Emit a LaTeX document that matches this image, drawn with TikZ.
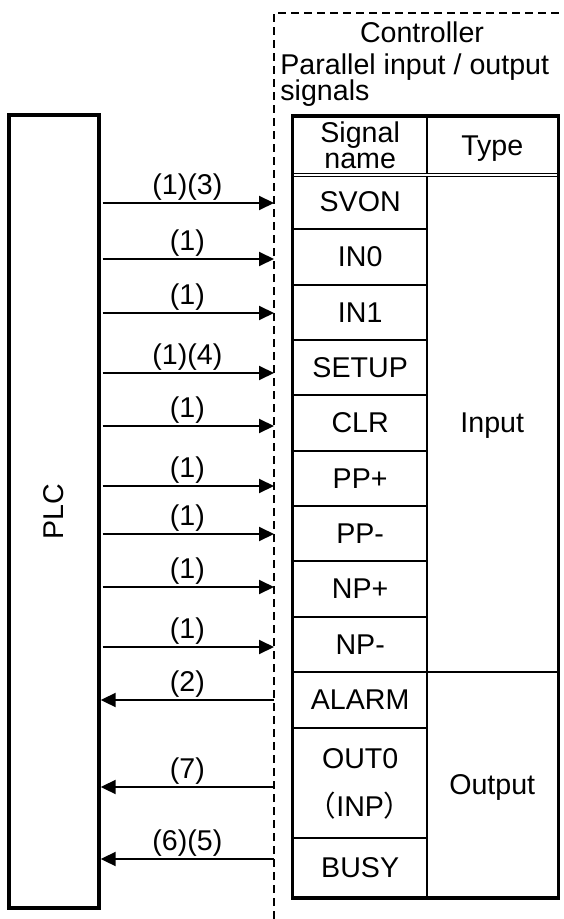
\documentclass[tikz,border=0pt]{standalone}
\usepackage{fontspec}
\setmainfont{Liberation Sans}
\newfontfamily\cjk{Noto Sans CJK JP}
\usetikzlibrary{positioning,arrows.meta}
\newcommand{\fwparen}[1]{{\cjk （}#1{\cjk ）}}

\begin{document}
\begin{tikzpicture}[x=0.5pt,y=-0.5pt,
  font=\fontsize{14.3}{15}\selectfont,
  cell/.style={draw, line width=1pt, inner sep=0pt, text depth=0pt, minimum height=27.67pt},
  namecol/.style={cell, minimum width=66.85pt},
  typecol/.style={cell, minimum width=65.25pt},
  wire/.style={line width=1pt, -{Triangle[length=7.5pt,width=7pt]}},
  wirelabel/.style={above, inner sep=1pt},
  ctlframe/.style={line width=1pt, dash pattern=on 4pt off 2.5pt}]

\useasboundingbox (0,0) rectangle (563,919);

% PLC
\node[draw, line width=2pt, inner sep=0pt, minimum width=44.7pt, minimum height=396.35pt] (plc) at (54,511.65) {\rotatebox{90}{PLC}};

% controller side
\draw[ctlframe] (274,919) -- (274,13) -- (563,13);
\node[anchor=base] (ctl) at (422,43) {Controller};
\node[anchor=base west, inner sep=0pt] (pio) at (280,75) {Parallel input / output};
\node[anchor=base west, inner sep=0pt] (pios) at (280,101) {signals};

% table
\node[namecol, minimum height=28.5pt, align=center, font=\fontsize{14.3}{13}\selectfont] (hname) at (360.15,145.5) {Signal\\name};
\node[typecol, minimum height=28.5pt] (htype) at (492.25,145.5) {Type};
\foreach \name/\txt [count=\i] in {svon/SVON,in0/IN0,in1/IN1,setup/SETUP,clr/CLR,ppplus/PP+,ppminus/PP-,npplus/NP+,npminus/NP-}
  \node[namecol] (\name) at (360.15,{146.33+55.33*\i}) {\txt};
\node[namecol, minimum height=28pt] (alarm) at (360.15,700) {ALARM};
\node[namecol, minimum height=55pt, align=center, font=\fontsize{14.3}{24}\selectfont] (out0) at (360.15,783) {OUT0\\\fwparen{INP}};
\node[namecol, minimum height=29.5pt] (busy) at (360.15,867.5) {BUSY};
\node[typecol, minimum height=249pt] (input) at (492.25,423) {Input};
\node[typecol, minimum height=112.5pt] (output) at (492.25,784.5) {Output};
\draw[line width=0.6pt, double distance=0.8pt] (hname.south west) -- (htype.south east);
\draw[line width=1.8pt] (hname.north west) rectangle (output.south east);

% signals in
\foreach \y/\lab [count=\i] in {203/{(1)(3)},259/{(1)},313/{(1)},373/{(1)(4)},426/{(1)},486/{(1)},534/{(1)},587/{(1)},647/{(1)}}{
  \coordinate (ci\i) at (274,\y);
  \draw[wire, shorten <=1pt] (plc.east |- ci\i) -- (ci\i) node[wirelabel, midway] {\lab};
}
% signals out
\foreach \y/\lab [count=\i] in {700/{(2)},787/{(7)},859/{(6)(5)}}{
  \coordinate (co\i) at (274,\y);
  \draw[wire] (co\i) -- (plc.east |- co\i) node[wirelabel, midway] {\lab};
}
\end{tikzpicture}
\end{document}
